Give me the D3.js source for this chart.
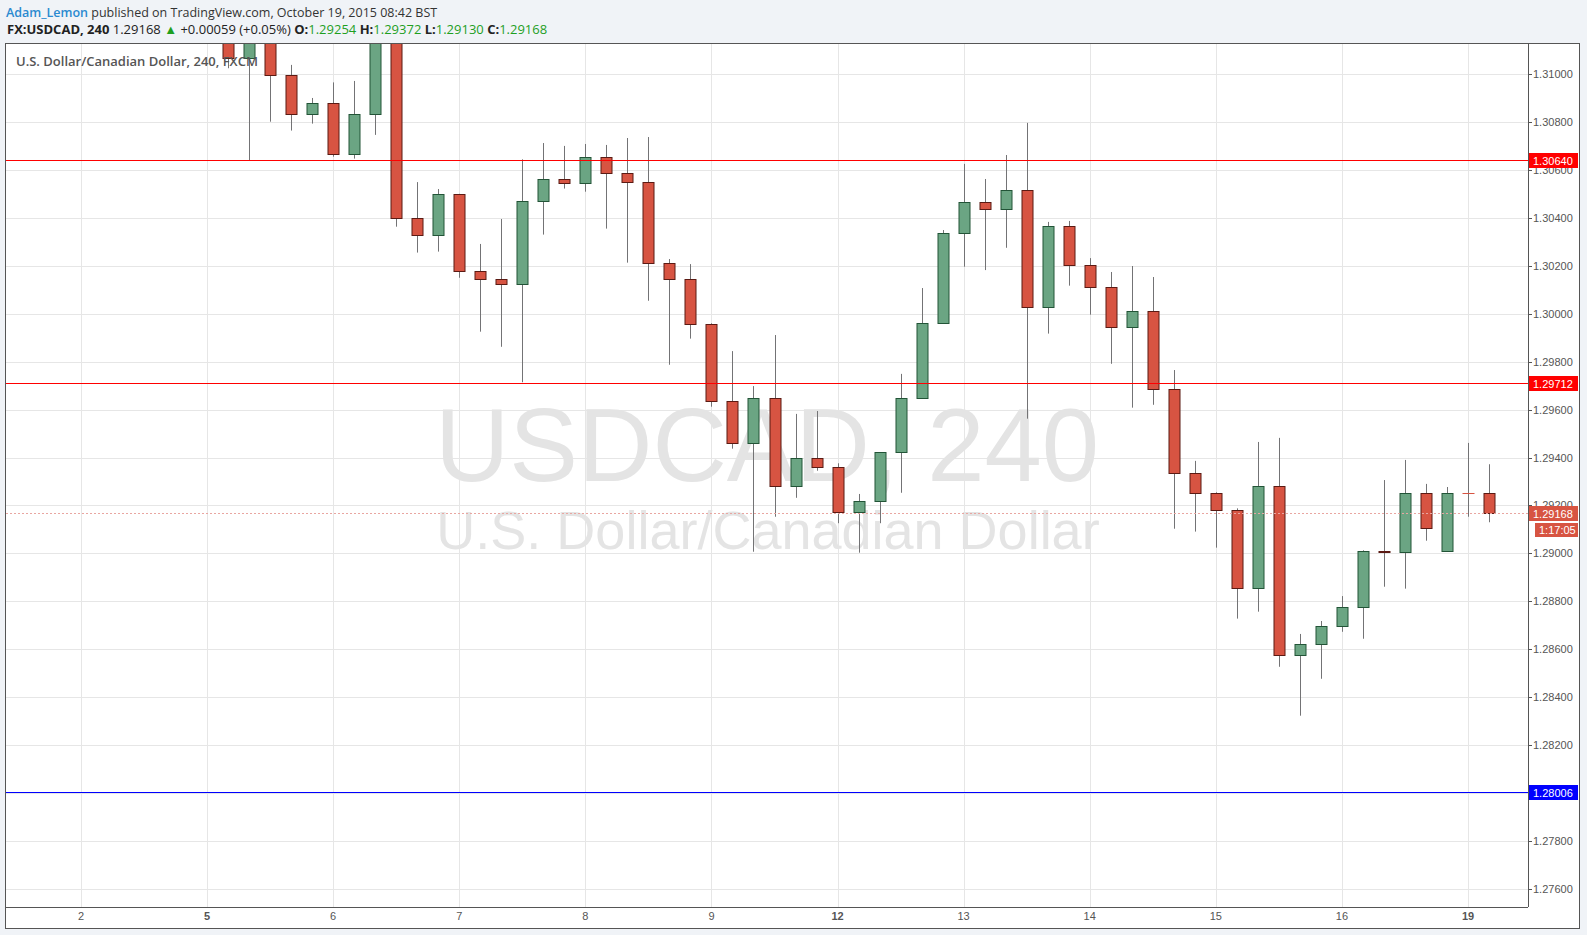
<!DOCTYPE html>
<html><head><meta charset="utf-8">
<script src="https://cdn.jsdelivr.net/npm/d3@7/dist/d3.min.js"></script>
<style>
html,body{margin:0;padding:0;background:#f0f3f7;}
svg{display:block;}
</style></head><body>
<svg id="c" width="1587" height="935"></svg>
<script>
// ---------- data ----------
const dayLabels = ["2","5","6","7","8","9","12","13","14","15","16","19"];
const boldDays = ["5","12","19"];
const candleTime = [
"5 04:00","5 08:00","5 12:00","5 16:00","5 20:00",
"6 00:00","6 04:00","6 08:00","6 12:00","6 16:00","6 20:00",
"7 00:00","7 04:00","7 08:00","7 12:00","7 16:00","7 20:00",
"8 00:00","8 04:00","8 08:00","8 12:00","8 16:00","8 20:00",
"9 00:00","9 04:00","9 08:00","9 12:00","9 16:00","9 20:00",
"12 00:00","12 04:00","12 08:00","12 12:00","12 16:00","12 20:00",
"13 00:00","13 04:00","13 08:00","13 12:00","13 16:00","13 20:00",
"14 00:00","14 04:00","14 08:00","14 12:00","14 16:00","14 20:00",
"15 00:00","15 04:00","15 08:00","15 12:00","15 16:00","15 20:00",
"16 00:00","16 04:00","16 08:00","16 12:00","16 16:00","16 20:00",
"19 00:00","19 04:00"];
const openV = [
1.31240,1.31066,1.31180,1.30995,1.30832,
1.30878,1.30665,1.30832,1.31160,1.30398,1.30327,
1.30498,1.30177,1.30144,1.30123,1.30469,1.30561,
1.30544,1.30653,1.30586,1.30548,1.30210,1.30144,
1.29956,1.29635,1.29459,1.29647,1.29280,1.29397,
1.29359,1.29172,1.29217,1.29422,1.29647,1.29960,
1.30335,1.30465,1.30436,1.30515,1.30027,1.30365,
1.30202,1.30110,1.29943,1.30010,1.29685,1.29334,
1.29253,1.29180,1.28854,1.29280,1.28575,1.28621,
1.28696,1.28775,1.29009,1.29005,1.29251,1.29009,
1.29254,1.29254];
const highV = [
1.31280,1.31240,1.31210,1.31038,1.30900,
1.30965,1.30971,1.31200,1.31190,1.30549,1.30520,
1.30500,1.30291,1.30395,1.30644,1.30712,1.30700,
1.30708,1.30704,1.30733,1.30737,1.30228,1.30207,
1.29960,1.29844,1.29698,1.29911,1.29582,1.29594,
1.29376,1.29248,1.29422,1.29749,1.30107,1.30349,
1.30625,1.30562,1.30662,1.30796,1.30383,1.30387,
1.30232,1.30174,1.30199,1.30153,1.29765,1.29386,
1.29255,1.29188,1.29465,1.29482,1.28664,1.28718,
1.28822,1.29013,1.29306,1.29390,1.29290,1.29277,
1.29461,1.29372];
const lowV = [
1.31024,1.30641,1.30801,1.30764,1.30793,
1.30655,1.30647,1.30746,1.30363,1.30255,1.30259,
1.30150,1.29925,1.29862,1.29714,1.30330,1.30522,
1.30509,1.30355,1.30213,1.30054,1.29787,1.29896,
1.29612,1.29437,1.29007,1.29153,1.29232,1.29345,
1.29126,1.29003,1.29126,1.29253,1.29645,1.29958,
1.30196,1.30182,1.30275,1.29562,1.29917,1.30117,
1.29996,1.29791,1.29608,1.29620,1.29103,1.29091,
1.29024,1.28728,1.28757,1.28527,1.28323,1.28477,
1.28673,1.28644,1.28861,1.28853,1.29053,1.29009,
1.29153,1.29130];
const closeV = [
1.31066,1.31180,1.30995,1.30832,1.30878,
1.30665,1.30832,1.31160,1.30398,1.30327,1.30498,
1.30177,1.30144,1.30123,1.30470,1.30561,1.30544,
1.30653,1.30586,1.30548,1.30210,1.30144,1.29956,
1.29635,1.29459,1.29647,1.29280,1.29397,1.29359,
1.29172,1.29217,1.29422,1.29647,1.29960,1.30335,
1.30465,1.30436,1.30515,1.30027,1.30365,1.30202,
1.30110,1.29943,1.30010,1.29685,1.29334,1.29253,
1.29180,1.28854,1.29280,1.28575,1.28621,1.28696,
1.28775,1.29009,1.29006,1.29251,1.29105,1.29251,
1.29254,1.29168];
const yTickLabels = ["1.27600","1.27800","1.28000","1.28200","1.28400","1.28600","1.28800","1.29000",
"1.29200","1.29400","1.29600","1.29800","1.30000","1.30200","1.30400","1.30600","1.30800","1.31000"];
const levelValues = [1.30640, 1.29712, 1.28006];
const levelColors = ["#ff0000","#ff0000","#0000ff"];
const lastPrice = 1.29168;
const countdown = "1:17:05";
const watermark1 = "USDCAD, 240";
const watermark2 = "U.S. Dollar/Canadian Dollar";
const legendText = "U.S. Dollar/Canadian Dollar, 240, FXCM";

// ---------- layout ----------
const P = {l:6, t:43, r:1528, b:907, axR:1580, axB:928};
const upFill="#6ba583", upLine="#225437", dnFill="#d75442", dnLine="#5b1a13", wickCol="#737375";
const svg = d3.select("#c");
const x = d3.scaleLinear().domain([0, 66]).range([81, 1468]);
const y = d3.scaleLinear().domain([1.276, 1.31]).range([889, 74]);
const slotOf = t => { const [d,h]=t.split(" "); return dayLabels.indexOf(d)*6 + (+h.split(":")[0])/4; };
const candles = candleTime.map((t,i)=>({slot:slotOf(t), o:openV[i], h:highV[i], l:lowV[i], c:closeV[i]}));
const axisFont = "'Liberation Sans', Arial, sans-serif";

svg.append("rect").attr("width",1587).attr("height",935).attr("fill","#f0f3f7");
svg.append("rect").attr("x",P.l).attr("y",P.t).attr("width",P.axR-P.l).attr("height",P.axB-P.t).attr("fill","#fff");

svg.append("clipPath").attr("id","pc").append("rect")
  .attr("x",P.l).attr("y",P.t).attr("width",P.r-P.l).attr("height",P.b-P.t);
const g = svg.append("g").attr("clip-path","url(#pc)");

// grid
const yTicks = yTickLabels.map(Number);
g.selectAll(".hg").data(yTicks).join("line")
  .attr("x1",P.l).attr("x2",P.r)
  .attr("y1",d=>Math.round(y(d))+0.5).attr("y2",d=>Math.round(y(d))+0.5)
  .attr("stroke","#e6e6e6");
g.selectAll(".vg").data(dayLabels).join("line")
  .attr("x1",(d,i)=>Math.round(x(i*6))+0.5).attr("x2",(d,i)=>Math.round(x(i*6))+0.5)
  .attr("y1",P.t).attr("y2",P.b).attr("stroke","#e6e6e6");

// watermark
g.append("text").attr("x",(P.l+P.r)/2).attr("y",481).attr("text-anchor","middle")
  .attr("font-family",axisFont).attr("font-size",103).attr("fill","#e4e4e4").text(watermark1);
g.append("text").attr("x",(P.l+P.r)/2+1).attr("y",549).attr("text-anchor","middle")
  .attr("font-family",axisFont).attr("font-size",54).attr("fill","#e4e4e4").text(watermark2);

// candles
const cg = g.selectAll(".cd").data(candles).join("g");
cg.append("line")
  .attr("x1",d=>Math.round(x(d.slot))+0.5).attr("x2",d=>Math.round(x(d.slot))+0.5)
  .attr("y1",d=>y(d.h)).attr("y2",d=>y(d.l)).attr("stroke",wickCol);
cg.append("rect")
  .attr("x",d=>Math.round(x(d.slot))-5).attr("width",11)
  .attr("y",d=>Math.round(y(Math.max(d.o,d.c)))+0.5)
  .attr("height",d=>Math.max(0.01,Math.round(y(Math.min(d.o,d.c)))-Math.round(y(Math.max(d.o,d.c)))))
  .attr("fill",d=>d.c>=d.o?upFill:dnFill)
  .attr("stroke",d=>d.c>d.o?upLine:(d.c===d.o?dnFill:dnLine));

// level lines
g.selectAll(".lv").data(levelValues).join("line")
  .attr("x1",P.l).attr("x2",P.r)
  .attr("y1",d=>Math.round(y(d))+0.5).attr("y2",d=>Math.round(y(d))+0.5)
  .attr("stroke",(d,i)=>levelColors[i]);
g.append("line").attr("x1",P.l).attr("x2",P.r)
  .attr("y1",Math.round(y(lastPrice))+0.5).attr("y2",Math.round(y(lastPrice))+0.5)
  .attr("stroke","#e9a6a1").attr("stroke-dasharray","2,2");

// frame
svg.append("rect").attr("x",P.l-0.5).attr("y",P.t+0.5).attr("width",P.axR-P.l).attr("height",P.axB-P.t)
  .attr("fill","none").attr("stroke","#555");
svg.append("line").attr("x1",P.r+0.5).attr("x2",P.r+0.5).attr("y1",P.t).attr("y2",P.b).attr("stroke","#555");
svg.append("line").attr("x1",P.l).attr("x2",P.r).attr("y1",P.b+0.5).attr("y2",P.b+0.5).attr("stroke","#555");

// price axis
const ax = svg.append("g");
ax.selectAll(".tk").data(yTicks).join("line")
  .attr("x1",P.r).attr("x2",P.r+4)
  .attr("y1",d=>Math.round(y(d))+0.5).attr("y2",d=>Math.round(y(d))+0.5).attr("stroke","#555");
ax.selectAll(".tl").data(yTickLabels).join("text")
  .attr("x",P.r+5).attr("y",d=>y(+d)+4)
  .attr("font-family",axisFont).attr("font-size",11).attr("fill","#555").text(d=>d);

// level boxes
levelValues.forEach((v,i)=>{
  const yy = Math.round(y(v));
  ax.append("rect").attr("x",P.r+1).attr("y",yy-7).attr("width",49).attr("height",15).attr("fill",levelColors[i]);
  ax.append("text").attr("x",P.r+5).attr("y",yy+4.5).attr("font-family",axisFont).attr("font-size",11)
    .attr("fill","#fff").text(v.toFixed(5));
});
{
  const yy = Math.round(y(lastPrice));
  ax.append("rect").attr("x",P.r+1).attr("y",yy-7).attr("width",49).attr("height",15).attr("fill",dnFill);
  ax.append("text").attr("x",P.r+5).attr("y",yy+4.5).attr("font-family",axisFont).attr("font-size",11)
    .attr("fill","#fff").text(lastPrice.toFixed(5));
  ax.append("rect").attr("x",P.r+7).attr("y",yy+10).attr("width",43).attr("height",14).attr("fill",dnFill);
  ax.append("text").attr("x",P.r+11).attr("y",yy+21).attr("font-family",axisFont).attr("font-size",11)
    .attr("fill","#fff").text(countdown);
}

// time axis labels
svg.selectAll(".xl").data(dayLabels).join("text")
  .attr("x",(d,i)=>x(i*6)).attr("y",920).attr("text-anchor","middle")
  .attr("font-family",axisFont).attr("font-size",11)
  .attr("font-weight",d=>boldDays.includes(d)?"bold":"normal")
  .attr("fill","#555").text(d=>d);

// legend
svg.append("text").attr("x",16).attr("y",65.5).attr("font-family","'Open Sans', sans-serif")
  .attr("font-size",13).attr("font-weight",600).attr("fill","#555").text(legendText);

// header
const hf = "'Open Sans', sans-serif";
const h1 = svg.append("text").attr("x",6).attr("y",16.5).attr("font-family",hf).attr("font-size",12.5).attr("fill","#333");
h1.append("tspan").attr("fill","#2a8ad0").attr("font-weight",600).text("Adam_Lemon");
h1.append("tspan").text(" published on TradingView.com, October 19, 2015 08:42 BST");
const green = "#1f9f1f";
const h2 = svg.append("text").attr("x",7).attr("y",34.3).attr("font-family",hf).attr("font-size",13).attr("fill","#222");
h2.append("tspan").attr("font-weight","bold").text("FX:USDCAD, 240");
h2.append("tspan").text(" 1.29168 ");
h2.append("tspan").attr("fill",green).text("\u25B2");
h2.append("tspan").text(" +0.00059 (+0.05%) ");
[["O:","1.29254"],["H:","1.29372"],["L:","1.29130"],["C:","1.29168"]].forEach(([k,v],i)=>{
  h2.append("tspan").attr("font-weight","bold").text((i?" ":"")+k);
  h2.append("tspan").attr("fill",green).text(v);
});
</script>
</body></html>
